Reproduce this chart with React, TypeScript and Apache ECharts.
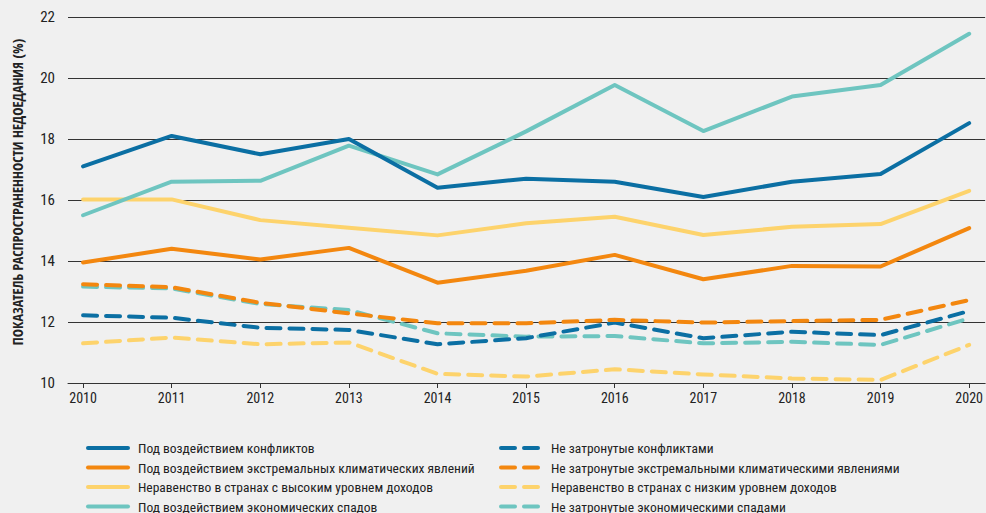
import React, { useEffect, useRef } from "react";
import * as echarts from "echarts";

const years = [2010, 2011, 2012, 2013, 2014, 2015, 2016, 2017, 2018, 2019, 2020];
const yTicks = [10, 12, 14, 16, 18, 20, 22];

const conflictAffected = [17.1, 18.1, 17.5, 18.0, 16.4, 16.7, 16.6, 16.1, 16.6, 16.85, 18.52];
const climateAffected = [13.95, 14.4, 14.05, 14.43, 13.29, 13.68, 14.2, 13.4, 13.84, 13.82, 15.08];
const highInequality = [16.02, 16.02, 15.34, 15.09, 14.84, 15.24, 15.45, 14.85, 15.12, 15.21, 16.3];
const downturnAffected = [15.5, 16.6, 16.63, 17.78, 16.84, 18.25, 19.77, 18.26, 19.39, 19.77, 21.45];

const notConflict = [12.22, 12.14, 11.81, 11.74, 11.27, 11.47, 11.98, 11.47, 11.68, 11.57, 12.36];
const notClimate = [13.24, 13.14, 12.63, 12.28, 11.96, 11.96, 12.07, 11.98, 12.03, 12.07, 12.72];
const lowInequality = [11.3, 11.49, 11.27, 11.33, 10.3, 10.21, 10.45, 10.28, 10.15, 10.1, 11.25];
const notDownturn = [13.16, 13.1, 12.59, 12.39, 11.63, 11.52, 11.54, 11.3, 11.35, 11.25, 12.12];

const names = {
  conflictAffected: "Под воздействием конфликтов",
  climateAffected: "Под воздействием экстремальных климатических явлений",
  highInequality: "Неравенство в странах с высоким уровнем доходов",
  downturnAffected: "Под воздействием экономических спадов",
  notConflict: "Не затронутые конфликтами",
  notClimate: "Не затронутые экстремальными климатическими явлениями",
  lowInequality: "Неравенство в странах с низким уровнем доходов",
  notDownturn: "Не затронутые экономическими спадами",
};

const yTitle = "ПОКАЗАТЕЛЬ РАСПРОСТРАНЕННОСТИ НЕДОЕДАНИЯ (%)";

const BLUE = "#0b6fa3";
const ORANGE = "#f3870f";
const YELLOW = "#fdd36c";
const TEAL = "#6ec5c0";

const FONT = "'Roboto Condensed', 'Liberation Sans Narrow', sans-serif";
const TITLE_FONT = "'Open Sans Condensed', 'Roboto Condensed', sans-serif";

export default function App() {
  const ref = useRef<HTMLDivElement>(null);
  useEffect(() => {
    document.body.style.margin = "0";
    document.body.style.background = "#f0f0f0";
    if (!ref.current) return;
    const chart = echarts.init(ref.current, undefined, { renderer: "svg" });

    const mk = (name: string, data: number[], color: string, dashed: boolean, z: number) => ({
      type: "line",
      name,
      data: years.map((y, i) => [y, data[i]]),
      symbol: "none",
      z,
      lineStyle: {
        color,
        width: 4,
        type: dashed ? [14, 9] : "solid",
        cap: "round",
        join: "round",
      },
      itemStyle: { color },
    });

    const series = [
      mk(names.notDownturn, notDownturn, TEAL, true, 2),
      mk(names.lowInequality, lowInequality, YELLOW, true, 2),
      mk(names.notConflict, notConflict, BLUE, true, 2),
      mk(names.notClimate, notClimate, ORANGE, true, 2),
      mk(names.highInequality, highInequality, YELLOW, false, 3),
      mk(names.climateAffected, climateAffected, ORANGE, false, 3),
      mk(names.downturnAffected, downturnAffected, TEAL, false, 3),
      mk(names.conflictAffected, conflictAffected, BLUE, false, 3),
    ];

    const legendCommon = {
      orient: "vertical",
      top: 441,
      height: 90,
      itemWidth: 40,
      itemHeight: 14,
      itemGap: 5.5,
      itemStyle: { opacity: 0, borderWidth: 0 },
      textStyle: { fontFamily: FONT, fontSize: 13.5, lineHeight: 14, color: "#222", padding: [0, 0, 0, 5] },
      selectedMode: false,
      padding: 0,
    };

    chart.setOption({
      animation: false,
      backgroundColor: "#f0f0f0",
      textStyle: { fontFamily: FONT },
      grid: { left: 68, right: 0, top: 17, bottom: 130, containLabel: false },
      legend: [
        {
          ...legendCommon,
          left: 86,
          lineStyle: { width: 4, cap: "round", type: "solid" },
          data: [names.conflictAffected, names.climateAffected, names.highInequality, names.downturnAffected],
        },
        {
          ...legendCommon,
          left: 499,
          lineStyle: { width: 4, cap: "round", type: [14, 9] },
          data: [names.notConflict, names.notClimate, names.lowInequality, names.notDownturn],
        },
      ],
      graphic: [
        {
          type: "text",
          x: 17,
          y: 192,
          rotation: Math.PI / 2,
          style: {
            text: yTitle,
            fontFamily: TITLE_FONT,
            fontSize: 14,
            fontWeight: "bold",
            fill: "#222",
            align: "center",
            verticalAlign: "middle",
          },
        },
      ],
      xAxis: {
        type: "value",
        min: 2009.83,
        max: 2020.18,
        axisLine: { show: true, lineStyle: { color: "#333", width: 1 } },
        axisTick: {
          show: true,
          length: 5,
          customValues: years,
          lineStyle: { color: "#333" },
        },
        axisLabel: {
          customValues: years,
          formatter: (v: number) => String(Math.round(v)),
          fontFamily: FONT,
          fontSize: 14,
          color: "#222",
          margin: 8,
        },
        splitLine: { show: false },
      },
      yAxis: {
        type: "value",
        min: yTicks[0],
        max: yTicks[yTicks.length - 1],
        interval: 2,
        axisLine: { show: false },
        axisTick: { show: false },
        axisLabel: { fontFamily: FONT, fontSize: 15, color: "#222", margin: 13 },
        splitLine: { show: true, lineStyle: { color: "#333", width: 1 } },
      },
      series,
    });
    return () => chart.dispose();
  }, []);
  return <div ref={ref} style={{ width: 986, height: 513 }} />;
}
